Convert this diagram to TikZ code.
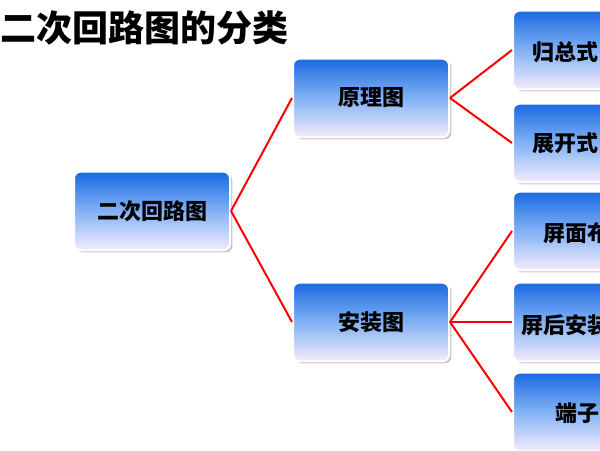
\documentclass[tikz,border=0pt]{standalone}
\usepackage{fontspec}
\setmainfont{Noto Sans CJK SC}
\usetikzlibrary{shadows}

\definecolor{boxtop}{RGB}{25,105,225}
\definecolor{boxmid}{RGB}{130,178,245}
\definecolor{boxbot}{RGB}{245,236,252}

\begin{document}
\begin{tikzpicture}[x=0.75pt, y=-0.75pt,
		b/.style = {rectangle, rounded corners=5pt, draw=white, line width=1.5pt, top color=boxtop, bottom color=boxbot, middle color=boxmid, minimum width=117pt, minimum height=59pt, inner sep=0pt, drop shadow={shadow xshift=1.8pt, shadow yshift=-1.5pt, fill=black!45}},
		t/.style = {font=\bfseries\fontsize{16.5}{17}\selectfont, inner sep=0pt},
		r/.style = {red, line width=1.5pt}
		]
		\useasboundingbox (0,0) rectangle (600,450);
		
		%Title
		\node[anchor=west, inner sep=0pt, font=\bfseries\fontsize{27}{29}\selectfont] (title) at (0,28) {二次回路图的分类};
		
		%Nodes
		\node[b]	(root)	at	(152, 211)	{\textbf{\fontsize{16.5}{17}\selectfont 二次回路图}};
		\node[b]	(yl)	at	(371, 98)	{\textbf{\fontsize{16.5}{17}\selectfont 原理图}};
		\node[b]	(az)	at	(371, 322)	{\textbf{\fontsize{16.5}{17}\selectfont 安装图}};
		\node[b]	(gz)	at	(591, 50)	{};
		\node[b]	(zk)	at	(591, 143)	{};
		\node[b]	(pm)	at	(591, 231)	{};
		\node[b]	(ph)	at	(591, 322)	{};
		\node[b]	(dz)	at	(591, 412)	{};
		
		%Texts
		\node[t, anchor=west]	(gzt)	at	(532, 52)	{归总式};
		\node[t, anchor=west]	(zkt)	at	(532, 143)	{展开式};
		\node[t, anchor=west]	(pmt)	at	(543, 233)	{屏面布};
		\node[t, anchor=west]	(pht)	at	(521, 325)	{屏后安装};
		\node[t, anchor=west]	(dzt)	at	(555, 413)	{端子};
		
		%Lines
		\draw[r]	(root.east)	--	(yl.west);
		\draw[r]	(root.east)	--	(az.west);
		\draw[r]	(yl.east)	--	(gz.west);
		\draw[r]	(yl.east)	--	(zk.west);
		\draw[r]	(az.east)	--	(pm.west);
		\draw[r]	(az.east)	--	(ph.west);
		\draw[r]	(az.east)	--	(dz.west);
	\end{tikzpicture}
\end{document}
